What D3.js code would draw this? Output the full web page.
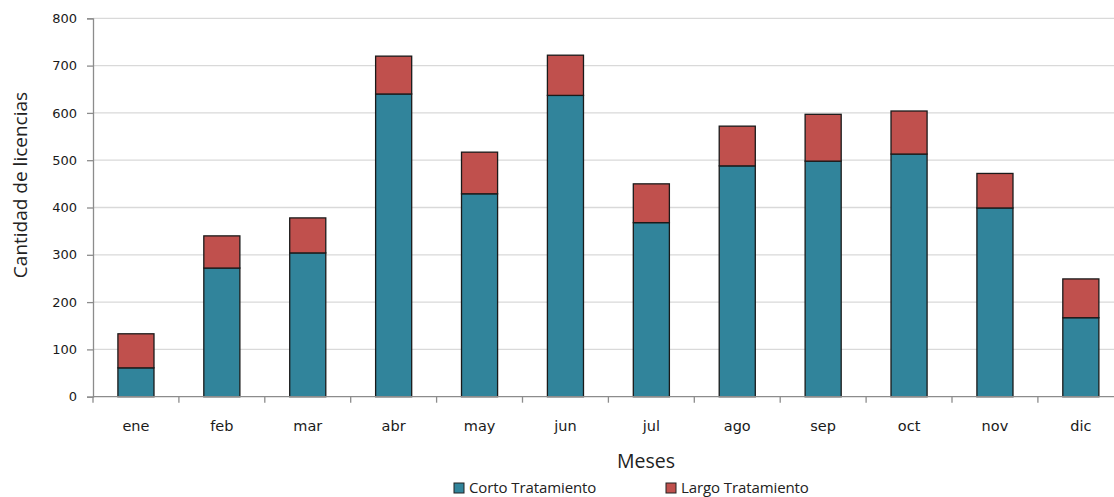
<!DOCTYPE html>
<html>
<head>
<meta charset="utf-8">
<script src="https://cdn.jsdelivr.net/npm/d3@7"></script>
<style>
  html, body { margin: 0; padding: 0; background: #fff; }
  svg { display: block; }
</style>
</head>
<body>
<svg id="chart" width="1114" height="497"></svg>
<script>
const months = ["ene","feb","mar","abr","may","jun","jul","ago","sep","oct","nov","dic"];
const corto = [61, 272, 304, 640, 429, 637, 368, 488, 498, 513, 399, 167];
const largo = [72, 68, 74, 80, 88, 85, 82, 84, 99, 91, 73, 82];
const seriesNames = ["Corto Tratamiento", "Largo Tratamiento"];
const seriesColors = ["#31849B", "#C0504D"];
const yTicks = [0, 100, 200, 300, 400, 500, 600, 700, 800];
const yTitle = "Cantidad de licencias";
const xTitle = "Meses";

(function () {
const svg = d3.select("#chart");
const pLeft = 93, pTop = 18.3, pBottom = 396.7, step = 85.9;
const pRight = pLeft + step * months.length;

const x = d3.scaleBand().domain(months).range([pLeft, pRight]).paddingInner(0.58).paddingOuter(0.29);
const y = d3.scaleLinear().domain([0, 800]).range([pBottom, pTop]);

// gridlines
svg.append("g").selectAll("line").data(yTicks.filter(d => d > 0)).join("line")
  .attr("x1", pLeft).attr("x2", 1114)
  .attr("y1", d => y(d)).attr("y2", d => y(d))
  .attr("stroke", "#d9d9d9").attr("stroke-width", 1.3);

// stacked data
const rows = months.map((m, i) => ({ m, corto: corto[i], largo: largo[i] }));
const stack = d3.stack().keys(["corto", "largo"])(rows);

svg.append("g").selectAll("g").data(stack).join("g")
  .attr("fill", (d, i) => seriesColors[i])
  .selectAll("rect").data(d => d).join("rect")
  .attr("x", d => x(d.data.m))
  .attr("width", x.bandwidth())
  .attr("y", d => y(d[1]))
  .attr("height", d => y(d[0]) - y(d[1]))
  .attr("stroke", "#1a1a1a").attr("stroke-width", 1.3);

// y axis
const yAxis = d3.axisLeft(y).tickValues(yTicks).tickSize(6).tickPadding(10);
const gy = svg.append("g").attr("transform", `translate(${pLeft},0)`).call(yAxis);
gy.select(".domain").attr("stroke", "#8c8c8c").attr("stroke-width", 1.3);
gy.selectAll(".tick line").attr("stroke", "#8c8c8c").attr("stroke-width", 1.3);
gy.selectAll(".tick text").attr("font-family", "DejaVu Sans, sans-serif").attr("font-size", 13)
  .attr("fill", "#1a1a1a");

// x axis
const xAxis = d3.axisBottom(x).tickSize(0).tickPadding(24);
const gx = svg.append("g").attr("transform", `translate(0,${pBottom})`).call(xAxis);
gx.select(".domain").attr("stroke", "#8c8c8c").attr("stroke-width", 1.3).attr("d", `M${pLeft},0H1114`);
gx.selectAll(".tick text").attr("font-family", "DejaVu Sans, sans-serif").attr("font-size", 14.5)
  .attr("fill", "#1a1a1a");
// category separator ticks
svg.append("g").selectAll("line").data(months).join("line")
  .attr("x1", d => x(d) - x.step() * x.paddingInner() / 2)
  .attr("x2", d => x(d) - x.step() * x.paddingInner() / 2)
  .attr("y1", pBottom).attr("y2", pBottom + 6)
  .attr("stroke", "#8c8c8c").attr("stroke-width", 1.3);

// titles
svg.append("text").attr("x", 646).attr("y", 468).attr("text-anchor", "middle")
  .attr("font-family", "Open Sans, sans-serif").attr("font-size", 19.5).attr("fill", "#222")
  .text(xTitle);
svg.append("text").attr("transform", "translate(27,185) rotate(-90)").attr("text-anchor", "middle")
  .attr("font-family", "Open Sans, sans-serif").attr("font-size", 19).attr("fill", "#222")
  .text(yTitle);

// legend
const legX = [454, 666];
const leg = svg.append("g").selectAll("g").data(seriesNames).join("g")
  .attr("transform", (d, i) => `translate(${legX[i]},483)`);
leg.append("rect").attr("width", 10).attr("height", 10)
  .attr("fill", (d, i) => seriesColors[i]).attr("stroke", "#222").attr("stroke-width", 1);
leg.append("text").attr("x", 15).attr("y", 9.5)
  .attr("font-family", "Open Sans, sans-serif").attr("font-size", 15).attr("fill", "#222")
  .attr("letter-spacing", -0.1)
  .text(d => d);
})();
</script>
</body>
</html>
